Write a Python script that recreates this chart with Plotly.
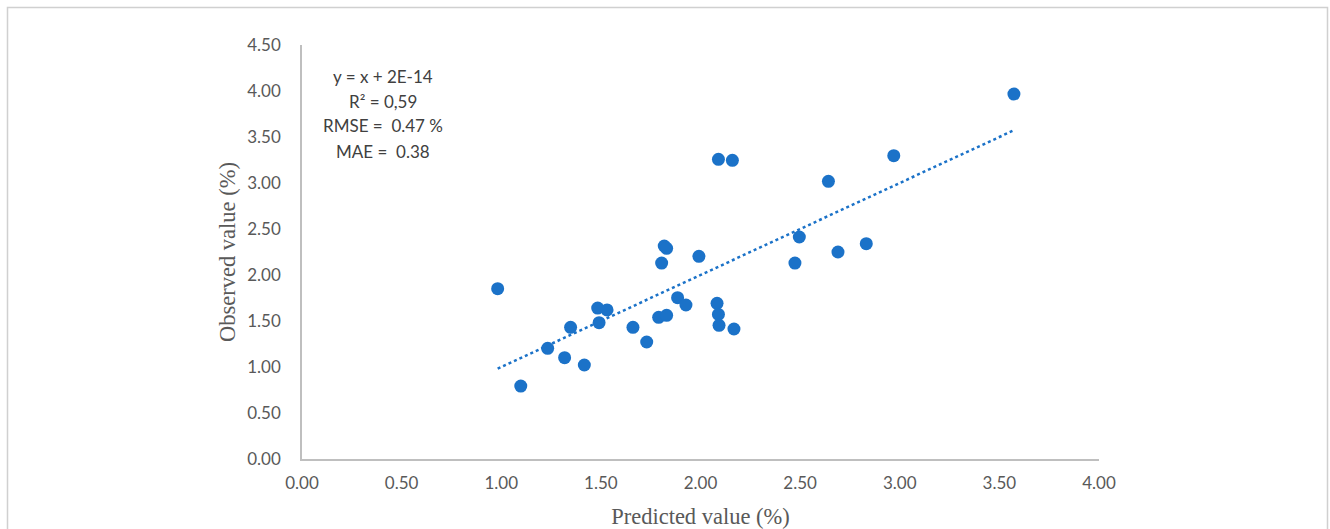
import plotly.graph_objects as go

predicted = [0.982, 1.098, 1.233, 1.318, 1.348, 1.417, 1.484, 1.531, 1.491, 1.661,
             1.730, 1.790, 1.830, 1.805, 1.818, 1.830, 1.885, 1.927, 1.992, 2.083,
             2.090, 2.093, 2.168, 2.090, 2.160, 2.474, 2.496, 2.642, 2.690, 2.832,
             2.970, 3.573]
observed = [1.851, 0.793, 1.203, 1.101, 1.431, 1.022, 1.641, 1.620, 1.482, 1.431,
            1.272, 1.540, 1.562, 2.130, 2.315, 2.290, 1.753, 1.674, 2.203, 1.692,
            1.572, 1.453, 1.413, 3.257, 3.246, 2.130, 2.413, 3.018, 2.250, 2.340,
            3.297, 3.967]

trend_slope = 1.0
trend_intercept = 2e-14
stats_lines = ["y = x + 2E-14", "R² = 0,59", "RMSE =  0.47 %", "MAE =  0.38"]

tick_vals_x = [0, 0.5, 1, 1.5, 2, 2.5, 3, 3.5, 4]
tick_vals_y = [0, 0.5, 1, 1.5, 2, 2.5, 3, 3.5, 4, 4.5]

blue = "#1B72C8"
tick_font = dict(family="Lato, Open Sans, sans-serif", size=17, color="#595959")
title_font = dict(family="Liberation Serif, Times New Roman, serif", size=22.5, color="#595959")

W, H = 1330, 529
L, R, T, B = 302, 1330 - 1099, 45, 529 - 459
PW, PH = 1099 - 302, 459 - 45


def px_to_paper_x(px):
    return (px - L) / PW


def px_to_paper_y(py):
    return (T + PH - py) / PH


tx = [min(predicted), max(predicted)]
ty = [trend_slope * v + trend_intercept for v in tx]

fig = go.Figure()
fig.add_trace(go.Scatter(x=tx, y=ty, mode="lines",
                         line=dict(color=blue, width=2.5, dash="dot"),
                         hoverinfo="skip", showlegend=False))
fig.add_trace(go.Scatter(x=predicted, y=observed, mode="markers",
                         marker=dict(color=blue, size=13, line=dict(width=0)),
                         showlegend=False))

fig.update_layout(
    width=W, height=H,
    margin=dict(l=L, r=R, t=T, b=B),
    paper_bgcolor="white", plot_bgcolor="white",
    showlegend=False,
    xaxis=dict(range=[0, 4], tickvals=tick_vals_x,
               ticktext=[f"{v:.2f}" for v in tick_vals_x],
               showgrid=False, zeroline=False, showline=True, automargin=False,
               linecolor="#BFBFBF", linewidth=1.5, ticks="",
               tickfont=tick_font, ticklabelstandoff=8,
               title=dict(text="Predicted value (%)", font=title_font, standoff=20)),
    yaxis=dict(range=[0, 4.5], tickvals=tick_vals_y,
               ticktext=[f"{v:.2f}" for v in tick_vals_y],
               showgrid=False, zeroline=False, showline=True, automargin=False,
               linecolor="#BFBFBF", linewidth=1.5, ticks="",
               tickfont=tick_font, ticklabelstandoff=16,
               title=dict(text="Observed value (%)", font=title_font, standoff=5)),
)

for line, py in zip(stats_lines, [76, 101, 126, 151]):
    fig.add_annotation(xref="paper", yref="paper", x=px_to_paper_x(383), y=px_to_paper_y(py),
                       text=line, showarrow=False, align="center",
                       font=dict(family="Lato, Open Sans, sans-serif", size=17, color="#404040"),
                       xanchor="center", yanchor="middle")

fig.add_shape(type="rect", xref="paper", yref="paper",
              x0=px_to_paper_x(7.5), x1=px_to_paper_x(1327.5),
              y0=px_to_paper_y(560), y1=px_to_paper_y(7.5),
              line=dict(color="#D0D0D0", width=1.5), layer="below")

fig.write_html("out.html", config={"displayModeBar": False},
               post_script="document.body.style.margin='0';document.body.style.overflow='hidden';")
